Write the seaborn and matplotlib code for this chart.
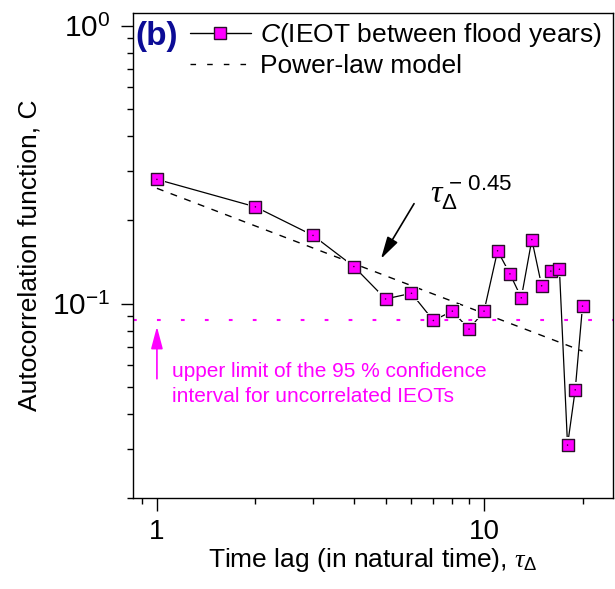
import numpy as np
import pandas as pd
import matplotlib
matplotlib.use("Agg")
import matplotlib.pyplot as plt
from matplotlib.lines import Line2D
from matplotlib.ticker import FixedLocator, FixedFormatter, NullFormatter
import seaborn as sns

# Autocorrelation of inter-event occurrence times (IEOT) between flood years
lag = list(range(1, 21))
autocorr = [0.280, 0.223, 0.176, 0.136, 0.104, 0.109, 0.087, 0.094, 0.081, 0.094,
            0.155, 0.128, 0.105, 0.170, 0.116, 0.131, 0.133, 0.031, 0.049, 0.098]

# Power-law model  C ~ A * tau^exponent
power_exponent = -0.45
power_amplitude = 0.26

# Upper limit of the 95 % confidence interval for uncorrelated IEOTs
confidence_limit = 0.087

x_major = [1, 10]
x_major_labels = ["1", "10"]
x_minor = [0.9, 2, 3, 4, 5, 6, 7, 8, 9, 20]
y_major = [0.1, 1.0]
y_major_labels = [r"$10^{-1}$", r"$10^{0}$"]
y_minor = [0.02, 0.03, 0.04, 0.05, 0.06, 0.07, 0.08, 0.09,
           0.2, 0.3, 0.4, 0.5, 0.6, 0.7, 0.8, 0.9]

MAGENTA = "#FF00FF"

sns.set_style("ticks")
plt.rcParams.update({
    "font.family": ["Liberation Sans", "DejaVu Sans"],
    "mathtext.fontset": "custom",
    "mathtext.rm": "Liberation Sans",
    "mathtext.it": "Liberation Serif:italic",
    "mathtext.bf": "Liberation Sans:bold",
    "mathtext.cal": "Liberation Sans:italic",
    "mathtext.sf": "Liberation Sans",
    "axes.edgecolor": "black",
    "axes.linewidth": 1.0,
    "text.color": "black",
    "axes.labelcolor": "black",
    "xtick.color": "black",
    "ytick.color": "black",
    "xtick.labelcolor": "black",
    "ytick.labelcolor": "black",
})

fig = plt.figure(figsize=(6.15, 5.89), dpi=100)
ax = fig.add_axes([133 / 615, 1 - 498 / 589, (612.5 - 133) / 615, (498 - 13.3) / 589])
ax.set_xscale("log")
ax.set_yscale("log")

df = pd.DataFrame({"lag": lag, "C": autocorr})
fit = pd.DataFrame({"lag": np.asarray(lag, dtype=float)})
fit["C"] = power_amplitude * fit["lag"] ** power_exponent

# power-law model
sns.lineplot(data=fit, x="lag", y="C", ax=ax, color="black", lw=1.0,
             linestyle=(0, (5, 5.5)), zorder=2)
# connecting line of the measured autocorrelation
sns.lineplot(data=df, x="lag", y="C", ax=ax, color="black", lw=0.9, zorder=2)
# white halo gives the gap between line and marker
sns.scatterplot(data=df, x="lag", y="C", ax=ax, marker="s", s=120,
                color="white", edgecolor="none", zorder=3)
sns.scatterplot(data=df, x="lag", y="C", ax=ax, marker="s", s=64,
                color=MAGENTA, edgecolor="#2a102a", linewidth=1.0, zorder=4)
sns.scatterplot(data=df, x="lag", y="C", ax=ax, marker="o", s=1.2,
                color="#300030", edgecolor="none", zorder=5)

# confidence level
ax.axhline(confidence_limit, color=MAGENTA, lw=1.5,
           linestyle=(0, (1.8, 9.7)), zorder=1)
ax.annotate("", xy=(1.0, 0.0827), xytext=(1.0, 0.0537),
            arrowprops=dict(arrowstyle="-|>,head_length=0.75,head_width=0.2",
                            mutation_scale=18, color=MAGENTA, lw=1.2,
                            shrinkA=0, shrinkB=0))
ax.text(1.111, 0.0545, "upper limit of the 95 % confidence",
        color=MAGENTA, fontsize=15, va="baseline", ha="left")
ax.text(1.111, 0.0444, "interval for uncorrelated IEOTs",
        color=MAGENTA, fontsize=15, va="baseline", ha="left")

# exponent label with arrow to the model line
ax.annotate("", xy=(4.84, 0.145), xytext=(6.11, 0.229),
            arrowprops=dict(arrowstyle="-|>,head_length=0.75,head_width=0.2",
                            mutation_scale=18, color="black", lw=1.2,
                            shrinkA=0, shrinkB=0))
ax.text(6.85, 0.232, r"$\tau_{\Delta}^{\,-\,%.2f}$" % abs(power_exponent),
        fontsize=23, va="baseline", ha="left")

ax.set_xlim(0.845, 24.7)
ax.set_ylim(0.02, 1.108)

ax.xaxis.set_major_locator(FixedLocator(x_major))
ax.xaxis.set_major_formatter(FixedFormatter(x_major_labels))
ax.xaxis.set_minor_locator(FixedLocator(x_minor))
ax.xaxis.set_minor_formatter(NullFormatter())
ax.yaxis.set_major_locator(FixedLocator(y_major))
ax.yaxis.set_major_formatter(FixedFormatter(y_major_labels))
ax.yaxis.set_minor_locator(FixedLocator(y_minor))
ax.yaxis.set_minor_formatter(NullFormatter())

ax.tick_params(which="major", direction="out", length=9, width=1,
               labelsize=20, pad=6, color="black", labelcolor="black")
ax.tick_params(axis="y", which="major", labelsize=21.5, pad=7)
ax.tick_params(which="minor", direction="out", length=4.5, width=1, color="black")
for s in ax.spines.values():
    s.set_visible(True)
    s.set_color("black")

ax.set_xlabel(r"Time lag (in natural time), $\tau_{\Delta}$", fontsize=19,
              labelpad=1, color="black")
ax.set_ylabel("Autocorrelation function, C", fontsize=19, labelpad=8, color="black")

handles = [
    Line2D([], [], color="black", lw=1.0, marker="s", ms=8,
           mfc=MAGENTA, mec="#2a102a", mew=1.0),
    Line2D([], [], color="black", lw=1.0, linestyle=(0, (4, 8))),
]
labels = [r"$\mathcal{C}$(IEOT between flood years)", "Power-law model"]
ax.legend(handles, labels, loc="upper left",
          bbox_to_anchor=(190 / 615, 1 - 21 / 589), bbox_transform=fig.transFigure,
          frameon=False, fontsize=19, handlelength=2.3, handletextpad=0.35,
          borderpad=0, borderaxespad=0, labelspacing=0.2)

fig.text(135 / 615, 1 - 37 / 589, "(b)", fontsize=24, fontweight="bold",
         color="#0c0c96", va="center", ha="left")

fig.savefig("out.png", dpi=100)
